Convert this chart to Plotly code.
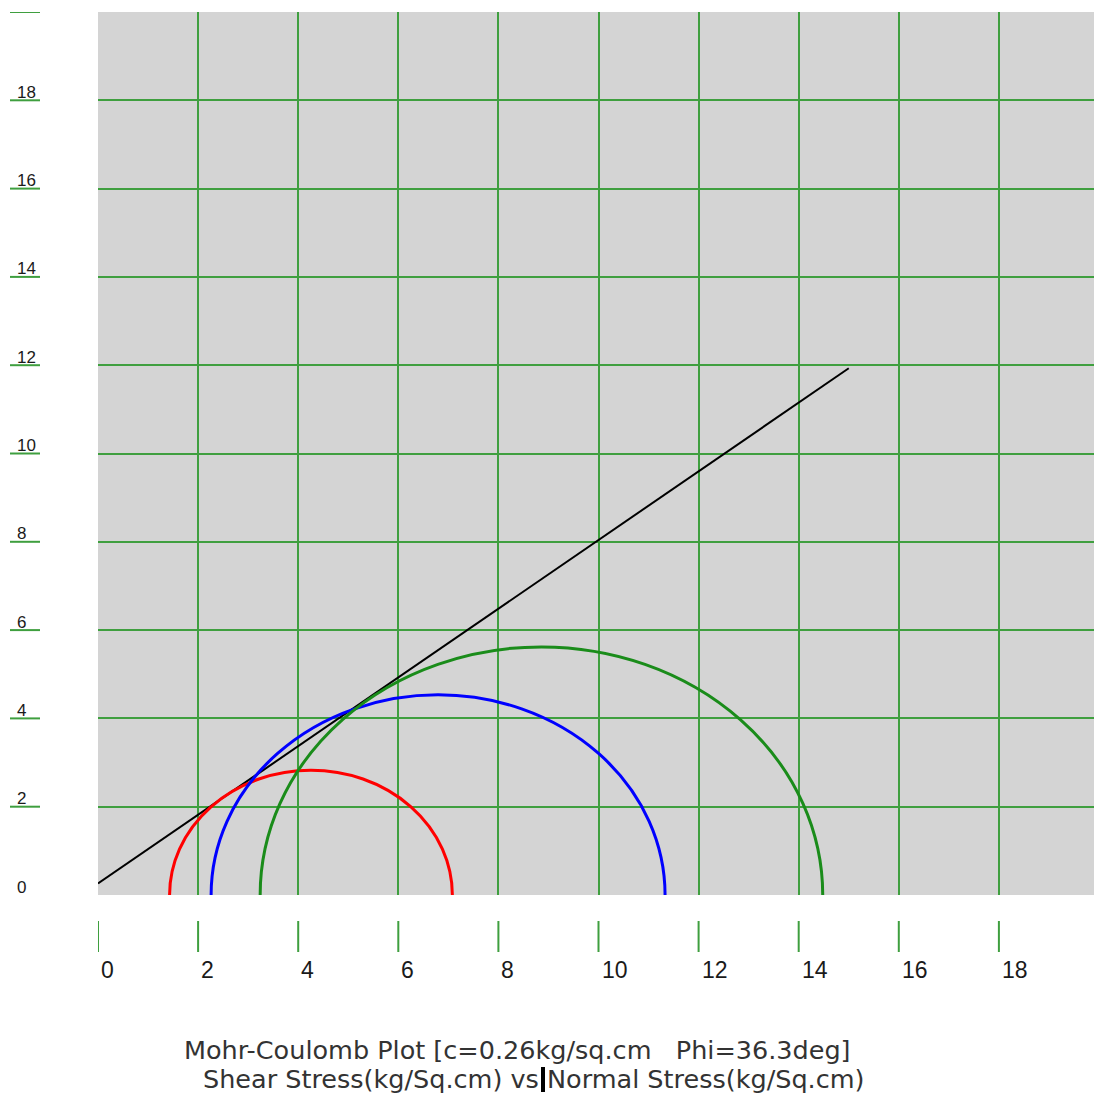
import plotly.graph_objects as go

# ---- data ----
circle_names = ["Test 1", "Test 2", "Test 3"]
sigma3 = [1.43, 2.26, 3.24]      # minor principal stress (kg/sq.cm)
sigma1 = [7.08, 11.33, 14.48]    # major principal stress (kg/sq.cm)
circle_colors = ["#ff0000", "#0000ff", "#1a8c1a"]

envelope_x = [0.0, 15.0]
envelope_y = [0.26, 11.93]

x_ticks = [0, 2, 4, 6, 8, 10, 12, 14, 16, 18]
y_ticks = [2, 4, 6, 8, 10, 12, 14, 16, 18, 20]
y_tick_labels = ["0", "2", "4", "6", "8", "10", "12", "14", "16", "18"]
y_label_vals = [0, 2, 4, 6, 8, 10, 12, 14, 16, 18]
title_line1 = "Mohr-Coulomb Plot [c=0.26kg/sq.cm\u00a0\u00a0\u00a0Phi=36.3deg]"
title_line2 = "Shear Stress(kg/Sq.cm) vs Normal Stress(kg/Sq.cm)"

# ---- layout geometry ----
W, H = 1094, 1095
ML, MR, MT, MB = 98, 0, 12, 200
PW, PH = W - ML - MR, H - MT - MB
X_MAX = 19.9
Y_MAX = 20


def px_x(p):
    return (p - ML) / PW


def px_y(p):
    return (H - MB - p) / PH


GRID = "#3f9f3f"

fig = go.Figure()

fig.add_trace(go.Scatter(x=envelope_x, y=envelope_y, mode="lines",
                         line=dict(color="black", width=2), showlegend=False,
                         hoverinfo="skip"))

shapes = []
for s3, s1, col in zip(sigma3, sigma1, circle_colors):
    r = (s1 - s3) / 2
    shapes.append(dict(type="circle", xref="x", yref="y", x0=s3, x1=s1, y0=-r, y1=r,
                       line=dict(color=col, width=3), layer="above"))

# y-axis label underlines
for v in y_label_vals[1:] + [20]:
    shapes.append(dict(type="line", xref="paper", yref="y", x0=px_x(10), x1=px_x(40),
                       y0=v, y1=v, line=dict(color=GRID, width=2)))

# x-axis detached tick marks
for v in x_ticks:
    shapes.append(dict(type="line", xref="x", yref="paper", x0=v, x1=v,
                       y0=px_y(921), y1=px_y(952), line=dict(color=GRID, width=2)))

# cursor artifact
shapes.append(dict(type="rect", xref="paper", yref="paper", x0=px_x(541), x1=px_x(545),
                   y0=px_y(1067), y1=px_y(1092), fillcolor="black", line=dict(width=0)))

annotations = []
for v, t in zip(y_label_vals, y_tick_labels):
    annotations.append(dict(x=px_x(15), y=v, xref="paper", yref="y", text=t,
                            showarrow=False, xanchor="left", yanchor="middle", yshift=8,
                            font=dict(family="Liberation Sans, Arial", size=17, color="#1a1a1a")))
for v in x_ticks:
    annotations.append(dict(x=v, y=px_y(970), xref="x", yref="paper", text=str(v),
                            showarrow=False, xanchor="left", yanchor="middle", xshift=1,
                            font=dict(family="Liberation Sans, Arial",
                                      size=23, color="#1a1a1a")))
annotations.append(dict(x=px_x(517), y=px_y(1050), xref="paper", yref="paper",
                        text=title_line1, showarrow=False, xanchor="center", yanchor="middle",
                        font=dict(family="DejaVu Sans, Liberation Sans", size=25.5, color="#333")))
annotations.append(dict(x=px_x(534), y=px_y(1079), xref="paper", yref="paper",
                        text=title_line2, showarrow=False, xanchor="center", yanchor="middle",
                        font=dict(family="DejaVu Sans, Liberation Sans", size=25.5, color="#333")))

fig.update_layout(
    width=W, height=H,
    margin=dict(l=ML, r=MR, t=MT, b=MB, pad=0),
    paper_bgcolor="white", plot_bgcolor="#d4d4d4",
    shapes=shapes, annotations=annotations,
    showlegend=False,
    xaxis=dict(range=[0, X_MAX], tickmode="array", tickvals=x_ticks, showticklabels=False,
               showgrid=True, gridcolor=GRID, gridwidth=2, zeroline=False, showline=False,
               ticks=""),
    yaxis=dict(range=[0, Y_MAX], tickmode="array", tickvals=y_ticks, showticklabels=False,
               showgrid=True, gridcolor=GRID, gridwidth=2, zeroline=False, showline=False,
               ticks=""),
)

fig.write_html("out.html")
